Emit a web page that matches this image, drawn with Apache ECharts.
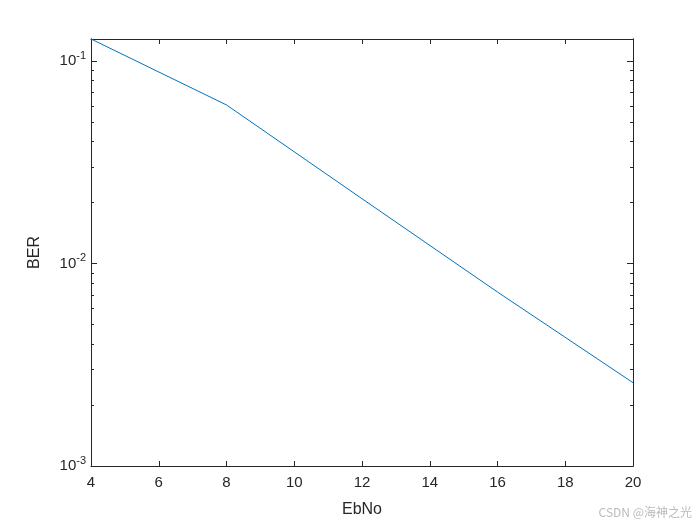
<!DOCTYPE html>
<html><head><meta charset="utf-8">
<script src="https://cdn.jsdelivr.net/npm/echarts@6/dist/echarts.min.js"></script>
<style>html,body{margin:0;padding:0;background:#fff}#c{width:700px;height:525px}</style>
</head><body><div id="c"></div>
<script>
const ebno = [4, 8, 12, 16, 20];
const ber = [0.1285, 0.0607, 0.0209, 0.00723, 0.00258];
const majorTicks = [0.001, 0.01, 0.1];
const minorTicks = [0.002,0.003,0.004,0.005,0.006,0.007,0.008,0.009,0.02,0.03,0.04,0.05,0.06,0.07,0.08,0.09];
const xMin = 4, xMax = 20, xStep = 2;
const yMin = 0.001, yMax = 0.1285;

const axisColor = '#262626';
const font = 'Liberation Sans, Arial, sans-serif';
function supFmt(v){
  const e = Math.round(Math.log10(v));
  return '{b|10}{s|' + e + '}';
}
const rich = {
  b:{fontSize:15, color:axisColor, fontFamily:font},
  s:{fontSize:11, color:axisColor, fontFamily:font, padding:[0,0,11,0]}
};
function yAx(pos, ticks, len, labels){
  return {
    type:'log', logBase:10, min:yMin, max:yMax, position:pos,
    axisLine:{show:true, lineStyle:{color:axisColor, width:1}},
    axisTick:{show:true, inside:true, length:len, customValues:ticks, lineStyle:{color:axisColor}},
    axisLabel:{show:labels, customValues:majorTicks, formatter:supFmt, rich:rich, margin:5},
    splitLine:{show:false}, minorTick:{show:false}
  };
}
const chart = echarts.init(document.getElementById('c'));
const yl = yAx('left', majorTicks, 6, true);
yl.name = 'BER'; yl.nameLocation='middle'; yl.nameGap=48; yl.nameRotate=90;
yl.nameTextStyle = {fontSize:16, color:axisColor, fontFamily:font};
chart.setOption({
  animation:false,
  backgroundColor:'#fff',
  grid:{left:91, right:67, top:39, bottom:59},
  xAxis:[{
    type:'value', min:xMin, max:xMax, interval:xStep, position:'bottom',
    name:'EbNo', nameLocation:'middle', nameGap:36,
    nameTextStyle:{fontSize:16, color:axisColor, fontFamily:font},
    axisLine:{show:true, lineStyle:{color:axisColor}},
    axisTick:{show:true, inside:true, length:5, lineStyle:{color:axisColor}},
    axisLabel:{fontSize:15, color:axisColor, fontFamily:font, margin:9},
    splitLine:{show:false}
  },{
    type:'value', min:xMin, max:xMax, interval:xStep, position:'top',
    axisLine:{show:true, lineStyle:{color:axisColor}},
    axisTick:{show:true, inside:true, length:5, lineStyle:{color:axisColor}},
    axisLabel:{show:false}, splitLine:{show:false}
  }],
  yAxis:[
    yl,
    yAx('left', minorTicks, 3, false),
    yAx('right', majorTicks, 6, false),
    yAx('right', minorTicks, 3, false)
  ],
  series:[{
    type:'line', xAxisIndex:0, yAxisIndex:0,
    data: ebno.map((x,i)=>[x, ber[i]]),
    showSymbol:false, symbol:'none',
    lineStyle:{color:'#0072BD', width:1}
  }],
  graphic:[{
    type:'text', right:8, bottom:7,
    style:{text:'CSDN @海神之光', fontSize:12, fill:'#bbbbbb', fontFamily:'Noto Sans CJK SC, sans-serif'}
  }]
});
</script></body></html>
